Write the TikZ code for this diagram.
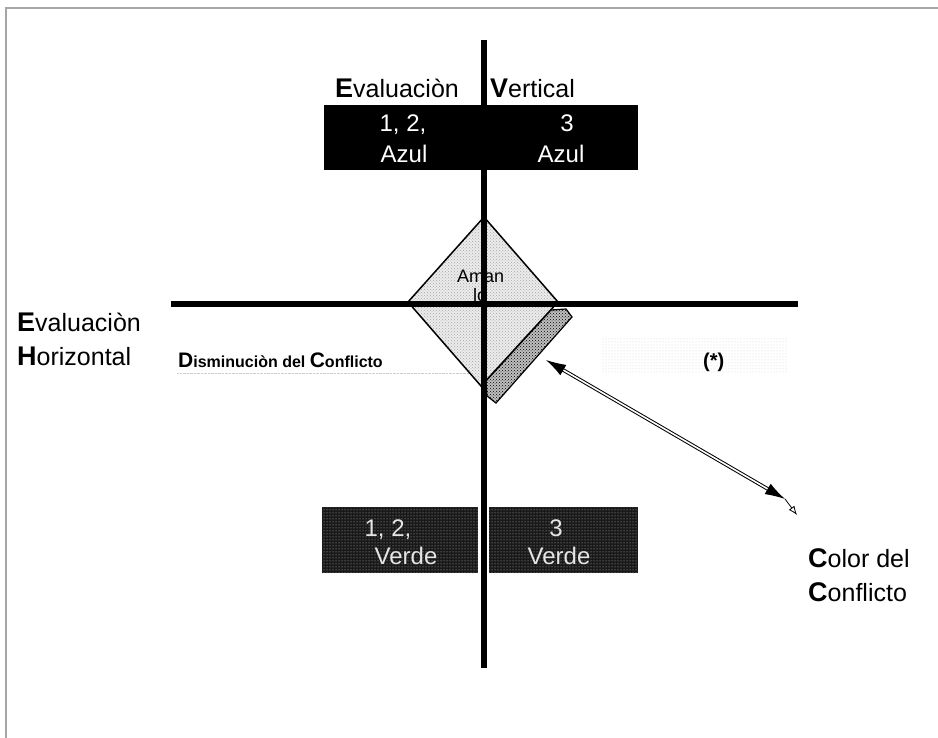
\documentclass[tikz,border=0pt]{standalone}
\usepackage{fontspec}
\setmainfont{Liberation Sans}
\usetikzlibrary{arrows.meta,patterns}

\newcommand{\inicial}[2][27]{{\fontsize{#1}{#1}\selectfont\bfseries #2}}

\tikzset{
  texto/.style={inner sep=0pt,anchor=base west,font=\fontsize{25}{25}\selectfont},
  blanco/.style={inner sep=0pt,anchor=base,text=white,font=\fontsize{24}{24}\selectfont},
  claro/.style={inner sep=0pt,anchor=base,text=gray!20,font=\fontsize{24}{24}\selectfont},
  eje/.style={line width=6.5pt},
  verde/.style={fill=black!90,postaction={pattern=dots,pattern color=gray!50}},
}

\begin{document}
\begin{tikzpicture}[x=1pt,y=-1pt]
   \useasboundingbox (0,0) rectangle (938,738);
   \draw[gray!70,line width=1.2pt] (938,8) -- (6,8) -- (6,738);

   % cajas de color
   \fill (324,105) rectangle (638,170);
   \fill[verde] (322,507) rectangle (478,573);
   \fill[verde] (489,507) rectangle (638,573);

   % banda tenue
   \fill[pattern=dots,pattern color=gray!35] (601,338) rectangle (788,372);
   \draw[gray!40,densely dotted] (177,373) -- (480,373);

   % rombo y franja
   \draw[line width=1.5pt,preaction={fill=gray!15},pattern=crosshatch dots,pattern color=gray!70]
      (484,217) -- (558,302) -- (481,386) -- (408,302) -- cycle;
   \draw[line width=1.2pt,preaction={fill=gray!50},pattern=crosshatch dots,pattern color=black]
      (551,310) -- (566,309) -- (572,317) -- (496,403) -- (487,396) -- (486,381) -- cycle;

   % ejes
   \coordinate (vsup) at (484,40);
   \coordinate (vinf) at (484,668);
   \coordinate (hizq) at (171,304);
   \coordinate (hder) at (798,304);
   \draw[eje] (vsup) -- (vinf);
   \draw[eje] (hizq) -- (hder);

   % textos
   \node[texto] (evv) at (335,98) {\inicial{E}valuaciòn};
   \node[texto] (ver) at (490,98) {\inicial{V}ertical};
   \node[blanco] (a1) at (403,132) {1, 2,};
   \node[blanco] (a2) at (404,163) {Azul};
   \node[blanco] (a3) at (567,132) {3};
   \node[blanco] (a4) at (561,163) {Azul};
   \node[texto,font=\fontsize{18}{18}\selectfont] (am1) at (457,283) {Aman};
   \node[texto,font=\fontsize{18}{18}\selectfont] (am2) at (473,302) {lo};
   \node[texto] (evh) at (17,332) {\inicial{E}valuaciòn};
   \node[texto] (hor) at (17,366) {\inicial{H}orizontal};
   \node[texto,font=\fontsize{16}{16}\selectfont\bfseries] (dis) at (178,367)
      {\inicial[21]{D}isminuciòn del \inicial[21]{C}onflicto};
   \node[texto,font=\fontsize{20}{20}\selectfont\bfseries] (ast) at (703,367) {(*)};
   \node[claro] (v1) at (388,536) {1, 2,};
   \node[claro] (v2) at (406,564) {Verde};
   \node[claro] (v3) at (556,536) {3};
   \node[claro] (v4) at (559,564) {Verde};
   \node[texto] (col) at (808,567) {\inicial{C}olor del};
   \node[texto] (con) at (808,601) {\inicial{C}onflicto};

   % flecha
   \coordinate (pfranja) at (546,360);
   \coordinate (pcolor) at (785,499);
   \coordinate (pcola) at (797,515);
   \draw[double,double distance=1.6pt,line width=1pt,{Latex[length=20pt,width=12pt]}-{Latex[length=20pt,width=12pt]}]
      (pfranja) -- (pcolor);
   \draw[line width=0.8pt,-{Latex[open,length=9pt,width=7pt]}] (pcolor) -- (pcola);
\end{tikzpicture}
\end{document}
